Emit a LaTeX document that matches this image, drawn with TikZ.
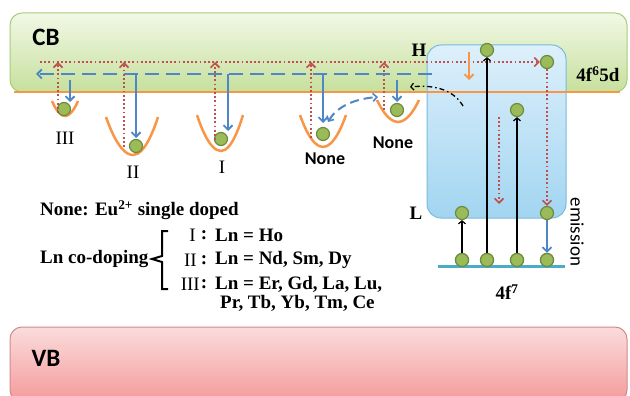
\documentclass[tikz,border=0pt]{standalone}
\usepackage{fontspec}
\setmainfont{Liberation Serif}
\newfontfamily\carl{Carlito}
\usetikzlibrary{arrows.meta}
\definecolor{orng}{HTML}{F79646}
\definecolor{bluA}{HTML}{4F86C6}
\definecolor{redD}{HTML}{C0504D}
\definecolor{grnF}{HTML}{9BBB59}
\definecolor{grnD}{HTML}{6E8B3D}
\definecolor{tealG}{HTML}{4BACC6}
\definecolor{cbTop}{HTML}{F2F8E6}
\definecolor{cbBot}{HTML}{C6E09C}
\definecolor{cbDraw}{HTML}{A8CC7C}
\definecolor{vbTop}{HTML}{FBDCDC}
\definecolor{vbBot}{HTML}{F49A9B}
\definecolor{vbDraw}{HTML}{D08C8C}
\definecolor{bxTop}{HTML}{DDF0FB}
\definecolor{bxBot}{HTML}{A2D5F1}
\definecolor{bxDraw}{HTML}{78BBDC}
\tikzset{
  dot/.style={circle,fill=grnF,draw=grnD,line width=1.2pt,minimum size=13pt,inner sep=0pt},
  reddot/.style={draw=redD,line width=2.1pt,dash pattern=on 1.8pt off 2.4pt,-{Straight Barb[length=4.5pt,width=9pt,line width=1.6pt]}},
  bluedash/.style={draw=bluA,line width=2.4pt,dash pattern=on 14pt off 7pt},
  bluearr/.style={draw=bluA,line width=2.2pt,-{Straight Barb[length=4.5pt,width=9pt,line width=1.8pt]}},
  well/.style={draw=orng,line width=2.5pt},
  blk/.style={draw=black,line width=1.3pt,-{Straight Barb[length=3pt,width=7pt,line width=1.2pt]}},
  sertext/.style={font=\fontsize{19}{22}\selectfont\bfseries,inner sep=0pt},
  romtext/.style={font=\fontsize{19}{22}\selectfont,inner sep=0pt},
  sanstext/.style={font=\carl\fontsize{18}{20}\selectfont\bfseries,inner sep=0pt},
  bandlabel/.style={font=\carl\fontsize{25}{28}\selectfont\bfseries,inner sep=0pt}
}
\begin{document}
\begin{tikzpicture}[x=1pt,y=-1pt]
\useasboundingbox (0,0) rectangle (630,396);
% bands
\shade[top color=cbTop,bottom color=cbBot,draw=cbDraw,line width=1pt,rounded corners=12pt]
  (10,13) rectangle (627,92);
\shade[top color=vbTop,bottom color=vbBot,draw=vbDraw,line width=1pt,rounded corners=12pt]
  (10,327) rectangle (627,402);
\node[bandlabel] (cb) at (46,37) {CB};
\node[bandlabel] (vb) at (46,358) {VB};
% right panel box
\shade[top color=bxTop,bottom color=bxBot,draw=bxDraw,line width=1pt,rounded corners=14pt]
  (427,45) rectangle (566,218);
% orange 4f65d line
\coordinate (oL) at (14,92);
\coordinate (oR) at (620,92);
\draw[orng,line width=2.6pt] (oL) -- (oR);
% wells
\draw[well] (52,101) parabola bend (65,116) (78,101);
\draw[well] (106,117) parabola bend (133,155) (158,117);
\draw[well] (197,115) parabola bend (221,151) (243,115);
\draw[well] (300,115) parabola bend (323,147) (346,115);
\draw[well] (377,100) parabola bend (398,122) (419,100);
% dots in wells
\node[dot] (d3) at (64,109) {};
\node[dot] (d2) at (136,146) {};
\node[dot] (d1) at (221,139) {};
\node[dot] (dn1) at (323,134) {};
\node[dot] (dn2) at (397,110) {};
% horizontal lines
\coordinate (bdR) at (432,74);
\coordinate (bdL) at (36,74);
\draw[bluedash,-{Straight Barb[length=4.5pt,width=9pt,line width=1.8pt]}] (bdR) -- (bdL);
\coordinate (rdL) at (40,62);
% right panel dots
\node[dot] (T) at (487,50) {};
\node[dot] (R) at (547,62) {};
\node[dot] (M) at (517,110) {};
\node[dot] (L1) at (462,213) {};
\node[dot] (L2) at (547,213) {};
\node[dot] (G1) at (462,260) {};
\node[dot] (G2) at (487,260) {};
\node[dot] (G3) at (517,260) {};
\node[dot] (G4) at (547,260) {};
\draw[reddot] (rdL) -- (R);
% red up arrows
\foreach \x/\yb in {58/113,124/147,215/140,311/138,384/110}{
  \draw[reddot] (\x,\yb) -- (\x,62);
}
% blue down arrows
\foreach \x/\yt/\yb in {70/80/102,136/74/138,228/74/131,323/74/123,397/80/102}{
  \draw[bluearr] (\x,\yt) -- (\x,\yb);
}
% curved double arrow
\coordinate (cA) at (328,122);
\coordinate (cB) at (378,97);
\draw[draw=bluA,line width=2pt,dash pattern=on 9pt off 5pt,{Straight Barb[length=4pt,width=8pt,line width=1.6pt]}-{Straight Barb[length=4pt,width=8pt,line width=1.6pt]}]
  (cA) .. controls (336,108) and (352,99) .. (cB);
% dash-dot black arrow
\coordinate (kS) at (463,106);
\coordinate (kE) at (410,87);
\draw[black,line width=1.3pt,dash pattern=on 5pt off 3pt on 1.5pt off 3pt,-{Straight Barb[length=3pt,width=7pt,line width=1.2pt]}]
  (kS) .. controls (455,92) and (438,84) .. (kE);
% orange small arrow
\coordinate (oa1) at (469,52);
\coordinate (oa2) at (469,80);
\draw[orng,line width=2.2pt,-{Straight Barb[length=4.5pt,width=9pt,line width=1.8pt]}] (oa1) -- (oa2);
% ground line
\coordinate (gL) at (438,266);
\coordinate (gR) at (565,266);
\draw[tealG,line width=3pt] (gL) -- (gR);
\foreach \n in {G1,G2,G3,G4}{\node[dot] at (\n) {};}
% black excitation arrows
\draw[blk] (G1) -- (L1);
\draw[blk] (G2) -- (T);
\draw[blk] (G3) -- (M);
% red dotted down
\coordinate (rd1) at (499,117);
\coordinate (rd2) at (499,204);
\draw[reddot] (rd1) -- (rd2);
\draw[reddot] (R) -- (L2);
% blue emission
\draw[draw=bluA,line width=2.2pt,-{Straight Barb[length=4.5pt,width=9pt,line width=1.8pt]}] (L2) -- (G4);
% labels
\node[sertext] (H) at (419,50) {H};
\node[sertext] (f5d) at (598,74) {4f\textsuperscript{6}5d};
\node[sertext] (Lb) at (416,213) {L};
\node[sertext] (f7) at (507,292) {4f\textsuperscript{7}};
\node[font=\carl\fontsize{19}{20}\selectfont,inner sep=0pt,rotate=-90] (em) at (577,232) {emission};
\node[romtext] (l3) at (65,138) {III};
\node[romtext] (l2) at (133,172) {II};
\node[romtext] (l1) at (222,167) {I};
\node[sanstext] (n1) at (325,159) {None};
\node[sanstext] (n2) at (393,143) {None};
% text block
\node[sertext,anchor=west] (t0) at (40,210) {None: Eu\textsuperscript{2+} single doped};
\node[sertext,anchor=west] (tc) at (40,259) {Ln co-doping};
\draw[black,line width=2pt] (168,231) -- (162,231) -- (162,256) -- (152,259) -- (162,262) -- (162,289) -- (168,289);
\node[romtext,anchor=east] (r1) at (196,235) {I};
\node[romtext,anchor=east] (r2) at (197,260) {II};
\node[romtext,anchor=east] (r3) at (200,284) {III};
\foreach \yy in {235,260,284}{\node[sertext] at (204,\yy) {:};}
\node[sertext,anchor=west] (e1) at (215,235) {Ln = Ho};
\node[sertext,anchor=west] (e2) at (215,260) {Ln = Nd, Sm, Dy};
\node[sertext,anchor=west] (e3) at (215,284) {Ln = Er, Gd, La, Lu,};
\node[sertext,anchor=west] (e4) at (220,303) {Pr, Tb, Yb, Tm, Ce};
\end{tikzpicture}
\end{document}
